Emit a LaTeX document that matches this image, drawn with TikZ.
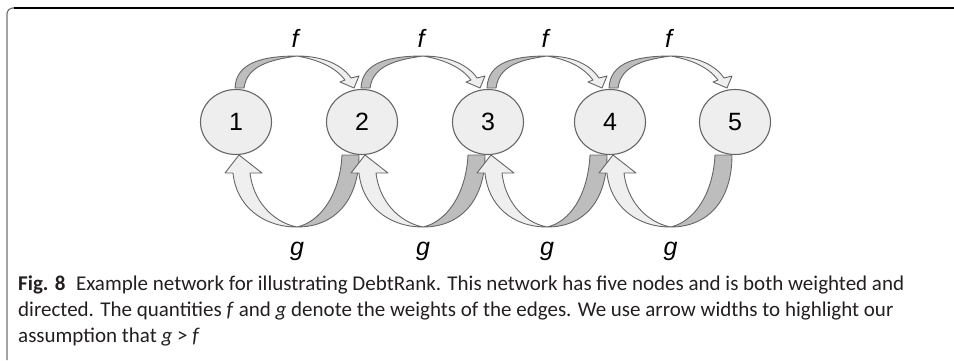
\documentclass[tikz,border=0pt]{standalone}
\usepackage{fontspec}
\setmainfont{Liberation Sans}
\newfontfamily\capfont{Carlito}
\usetikzlibrary{shapes.geometric,calc}
\definecolor{nodefill}{HTML}{EEEEEE}
\definecolor{edgecol}{HTML}{666666}
\definecolor{darkband}{HTML}{BDBDBD}
\definecolor{lightband}{HTML}{EFEFEF}
\definecolor{captext}{HTML}{231F20}
\begin{document}
\begin{tikzpicture}[x=1pt,y=-1pt,
  netnode/.style={ellipse, draw=edgecol, fill=nodefill, line width=1.1pt,
    minimum width=71pt, minimum height=65pt, inner sep=0pt,
    font=\fontsize{25}{25}\selectfont},
  darkpart/.style={draw=edgecol, fill=darkband, line width=0.9pt, line join=round},
  lightpart/.style={draw=edgecol, fill=lightband, line width=0.9pt, line join=round},
  wlabel/.style={anchor=base, font=\fontsize{25}{25}\selectfont\itshape},
  capline/.style={anchor=base west, inner sep=0pt, text=captext,
    font=\capfont\fontsize{21}{21}\selectfont}]
\useasboundingbox (0,0) rectangle (954,360);
% frame
\draw[line width=1.2pt, color=black!55, rounded corners=6pt] (7,360) -- (7,8) -- (22,8);
\draw[line width=1.5pt, black] (14,8) -- (954,8);
% nodes
\node[netnode] (n1) at (236,122) {1};
\node[netnode] (n2) at (362,122) {2};
\node[netnode] (n3) at (488,122) {3};
\node[netnode] (n4) at (610,122) {4};
\node[netnode] (n5) at (735,122) {5};
% arrows
\foreach \i [evaluate=\i as \j using int(\i+1)] in {1,...,4}{
  % f arrow (top), from n\i to n\j
  \draw[darkpart] ($(n\i)+(-1,-34)$) .. controls ($(n\i)+(0,-60)$) and ($(n\i)!0.5!(n\j)+(-35,-66)$)
    .. ($(n\i)!0.5!(n\j)+(-2,-66)$) .. controls ($(n\i)!0.5!(n\j)+(-30,-62)$) and ($(n\i)+(11,-56)$)
    .. ($(n\i)+(8,-34)$) -- cycle;
  \draw[lightpart] ($(n\i)!0.5!(n\j)+(-2,-66)$) .. controls ($(n\i)!0.5!(n\j)+(26,-66)$) and ($(n\j)+(-19,-56)$)
    .. ($(n\j)+(-11,-44)$) -- ($(n\j)+(-3,-46)$) -- ($(n\j)+(-8,-34)$) -- ($(n\j)+(-22,-40)$)
    -- ($(n\j)+(-17,-42)$) .. controls ($(n\j)+(-26,-54)$) and ($(n\i)!0.5!(n\j)+(21,-62)$)
    .. ($(n\i)!0.5!(n\j)+(-2,-66)$) -- cycle;
  % g arrow (bottom), from n\j to n\i
  \draw[darkpart] ($(n\j)+(-3,33)$) .. controls ($(n\j)+(-3,78)$) and ($(n\i)!0.5!(n\j)+(36,105)$)
    .. ($(n\i)!0.5!(n\j)+(-2,105)$) .. controls ($(n\i)!0.5!(n\j)+(21,100)$) and ($(n\j)+(-22,73)$)
    .. ($(n\j)+(-20,33)$) -- cycle;
  \draw[lightpart] ($(n\i)!0.5!(n\j)+(-2,105)$) .. controls ($(n\i)!0.5!(n\j)+(-37,105)$) and ($(n\i)+(0,83)$)
    .. ($(n\i)+(-3,51)$) -- ($(n\i)+(-11,51)$) -- ($(n\i)+(3,33)$) -- ($(n\i)+(26,51)$)
    -- ($(n\i)+(14,51)$) .. controls ($(n\i)+(17,78)$) and ($(n\i)!0.5!(n\j)+(-27,100)$)
    .. ($(n\i)!0.5!(n\j)+(-2,105)$) -- cycle;
  % labels
  \node[wlabel] (f\i) at ($(n\i)!0.5!(n\j)+(-4,-75)$) {f};
  \node[wlabel] (g\i) at ($(n\i)!0.5!(n\j)+(-2,133)$) {g};
}
% caption
\node[capline] (cap1) at (18,290) {\textbf{Fig. 8}\enspace Example network for illustrating DebtRank. This network has five nodes and is both weighted and};
\node[capline] (cap2) at (18,316) {directed. The quantities \textit{f} and \textit{g} denote the weights of the edges. We use arrow widths to highlight our};
\node[capline] (cap3) at (18,342) {assumption that \textit{g} > \textit{f}};
\end{tikzpicture}
\end{document}
